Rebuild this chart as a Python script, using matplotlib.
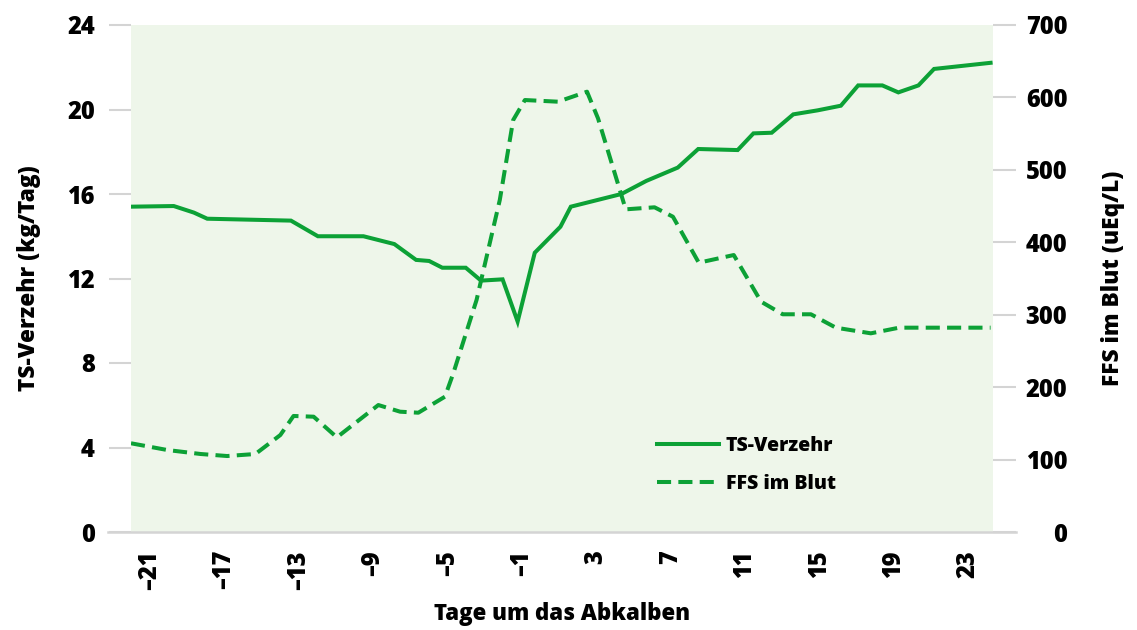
import matplotlib
matplotlib.use("Agg")
import matplotlib.pyplot as plt
from matplotlib.lines import Line2D

# ---- data ----
days_ts = [-22, -19.7, -18.62, -17.9, -13.4, -11.95, -9.5, -7.84, -6.67, -5.97,
           -5.26, -4.0, -3.18, -2.02, -1.21, -0.29, 1.09, 1.65, 4.37, 5.71,
           7.40, 8.50, 10.62, 11.47, 12.45, 13.61, 14.92, 16.17, 17.10, 18.40,
           19.26, 20.34, 21.18, 24.22]
ts_verzehr = [15.4, 15.43, 15.12, 14.83, 14.74, 14.0, 14.0, 13.63, 12.88, 12.83,
              12.51, 12.51, 11.9, 11.96, 9.96, 13.22, 14.45, 15.4, 16.0, 16.62,
              17.25, 18.13, 18.08, 18.87, 18.90, 19.77, 19.96, 20.18, 21.14, 21.14,
              20.81, 21.14, 21.92, 22.21]

days_ffs = [-22, -20.05, -18.26, -16.83, -15.31, -13.97, -13.26, -12.18, -10.93, -8.70,
            -7.53, -6.55, -5.12, -4.67, -3.42, -2.17, -1.45, -0.82, 0.96, 2.52,
            3.11, 3.74, 4.60, 6.15, 7.14, 8.53, 10.41, 11.88, 13.04, 14.56,
            15.90, 17.78, 19.30, 24.22]
ffs_blut = [122.5, 113.2, 107.7, 104.9, 107.7, 133.9, 160.2, 159.2, 130.7, 175.3,
            166.1, 164.7, 186.8, 219.1, 320.3, 458.4, 568.8, 596.4, 594.1, 607.9,
            571.2, 518.2, 445.5, 448.3, 435.3, 371.8, 382.4, 318.0, 300.6, 300.6,
            282.1, 274.3, 282.1, 282.1]

x_ticks = [-21, -17, -13, -9, -5, -1, 3, 7, 11, 15, 19, 23]
x_ticklabels = [("\u2013" + str(abs(v))) if v < 0 else str(v) for v in x_ticks]
left_ticks = [0, 4, 8, 12, 16, 20, 24]
right_ticks = [0, 100, 200, 300, 400, 500, 600, 700]

label_ts = "TS-Verzehr"
label_ffs = "FFS im Blut"
ylabel_left = "TS-Verzehr (kg/Tag)"
ylabel_right = "FFS im Blut (uEq/L)"
xlabel = "Tage um das Abkalben"

# ---- style ----
plt.rcParams['font.family'] = ['Open Sans', 'DejaVu Sans']
green = '#0ca136'
bg = '#eef6ea'
grey = '#d4d4d4'
fw = 'heavy'
fs_tick = 17
fs_lab = 16.3
fs_xlab = 16
fs_leg = 14

fig = plt.figure(figsize=(11.37, 6.30), dpi=100)
ax = fig.add_axes([131/1137, 98/630, 862/1137, 507/630])
ax.set_facecolor(bg)
ax2 = ax.twinx()

l1, = ax.plot(days_ts, ts_verzehr, color=green, lw=2.9, solid_joinstyle='miter', label=label_ts)
l2, = ax2.plot(days_ffs, ffs_blut, color=green, lw=2.9, dashes=(3.5, 1.8),
               dash_capstyle='butt', label=label_ffs)

ax.set_xlim(-22, 24.35)
ax.set_ylim(0, 24)
ax2.set_ylim(0, 700)

for a in (ax, ax2):
    for s in a.spines.values():
        s.set_visible(False)

ax.set_xticks(x_ticks)
ax.set_xticklabels(x_ticklabels, rotation=90, fontsize=fs_tick, fontweight=fw)
ax.tick_params(axis='x', length=0, pad=13)

ax.set_yticks(left_ticks)
ax.set_yticklabels([str(v) for v in left_ticks], fontsize=fs_tick, fontweight=fw)
ax.tick_params(axis='y', length=16, width=1.5, color=grey, pad=10)

ax2.set_yticks(right_ticks)
ax2.set_yticklabels([str(v) for v in right_ticks], fontsize=fs_tick, fontweight=fw)
ax2.tick_params(axis='y', length=16.5, width=1.5, color=grey, pad=37)
for t in ax2.get_yticklabels():
    t.set_horizontalalignment('right')

# bottom baseline extended like the reference
ax.add_line(Line2D([-0.027, 1.027], [0, 0], transform=ax.transAxes, color=grey,
                   lw=1.8, clip_on=False, zorder=5))

ax.set_ylabel(ylabel_left, fontsize=fs_lab, fontweight=fw, labelpad=19)
ax2.set_ylabel(ylabel_right, fontsize=fs_lab, fontweight=fw, labelpad=24, rotation=90)
ax.set_xlabel(xlabel, fontsize=fs_xlab, fontweight=fw, labelpad=9)

leg = ax.legend(handles=[l1, l2], loc='upper left', bbox_to_anchor=(0.61, 0.19),
                frameon=False, prop={'size': fs_leg, 'weight': fw}, handlelength=3.2,
                handletextpad=0.35, labelspacing=0.95, borderpad=0, borderaxespad=0)

fig.savefig('out.png', dpi=100)
